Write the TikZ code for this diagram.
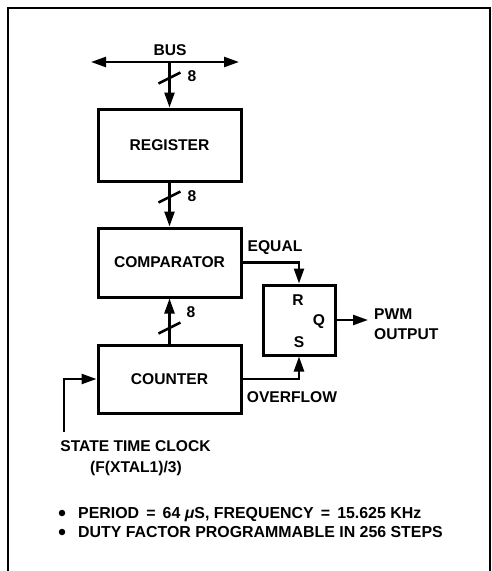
\documentclass[tikz,border=0pt]{standalone}
\usepackage{fontspec}
\setmainfont{Liberation Sans}
\usetikzlibrary{arrows.meta}
\tikzset{
  blk/.style={draw, line width=3pt, inner sep=0pt, minimum width=143pt, font=\lbl},
  ffbox/.style={draw, line width=3pt, inner sep=0pt, minimum width=72pt, minimum height=70pt},
  wire/.style={line width=2.4pt},
  arr/.style={wire, -{Triangle[length=15pt,width=10pt]}},
  biarr/.style={wire, {Triangle[length=15pt,width=10pt]}-{Triangle[length=15pt,width=10pt]}},
  slash/.style={line width=2.6pt},
  txt/.style={inner sep=0pt, font=\lbl},
  note/.style={inner sep=0pt, font=\notefont},
  dot/.style={circle, fill, inner sep=0pt, minimum size=6.5pt},
  frame/.style={line width=2.2pt}
}
\newcommand{\lbl}{\fontsize{15.6}{20}\selectfont\bfseries}
\newcommand{\notefont}{\fontsize{15.9}{20}\selectfont\bfseries}
\newcommand{\eqs}{\hspace{0.45em}=\hspace{0.45em}}
\begin{document}
\begin{tikzpicture}[x=1pt,y=-1pt]
\useasboundingbox (0,0) rectangle (491,571);
\draw[frame] (8,600) -- (8,8) -- (490,8) -- (490,600);
% blocks
\node[blk, minimum height=72pt] (reg) at (169.5,145) {REGISTER};
\node[blk, minimum height=69pt] (cmp) at (169.5,262.5) {COMPARATOR};
\node[blk, minimum height=68pt] (cnt) at (169.5,379) {COUNTER};
\node[ffbox] (ff) at (299,320) {};
\node[txt] (r) at (298,300) {R};
\node[txt] (q) at (319,322) {Q};
\node[txt] (s) at (299,342) {S};
% bus
\coordinate (busL) at (91,62);
\coordinate (busR) at (239,62);
\coordinate (busJ) at (169.5,62);
\node[txt] (bus) at (170,50) {BUS};
\draw[biarr] (busL) -- (busR);
\draw[arr] (busJ) -- (reg.north);
\draw[slash] (169.5,78) ++(-11,5.5) -- ++(22,-11);
\node[txt] (n1) at (192,76) {8};
% register -> comparator
\draw[arr] (reg.south) -- (cmp.north);
\draw[slash] (169.5,197) ++(-11,5.5) -- ++(22,-11);
\node[txt] (n2) at (192,196) {8};
% counter -> comparator
\draw[arr] (cnt.north) -- (cmp.south);
\draw[slash] (169.5,328) ++(-11,5.5) -- ++(22,-11);
\node[txt] (n3) at (191,312) {8};
% equal / overflow
\draw[arr] (cmp.east) -| (ff.north);
\node[txt] (eq) at (275,248) {EQUAL};
\draw[arr] (cnt.east) -| (ff.south);
\node[txt] (ov) at (292,397) {OVERFLOW};
% pwm
\coordinate (pwm) at (368,320);
\draw[arr] (ff.east) -- (pwm);
\node[txt, anchor=west, align=left] (pwmt) at (374,324) {PWM\\OUTPUT};
% clock
\coordinate (clk) at (64,432);
\draw[arr] (clk) |- (cnt.west);
\node[txt] (st) at (135.5,446) {STATE TIME CLOCK};
\node[txt] (fx) at (136,468) {(F(XTAL1)/3)};
% notes
\node[dot] (d1) at (62,513) {};
\node[dot] (d2) at (62,532) {};
\node[note, anchor=base west] (b1) at (78,518.7) {PERIOD\eqs 64 {\itshape μ}S, FREQUENCY\eqs 15.625 KHz};
\node[note, anchor=base west] (b2) at (78,537.7) {DUTY FACTOR PROGRAMMABLE IN 256 STEPS};
\end{tikzpicture}
\end{document}
